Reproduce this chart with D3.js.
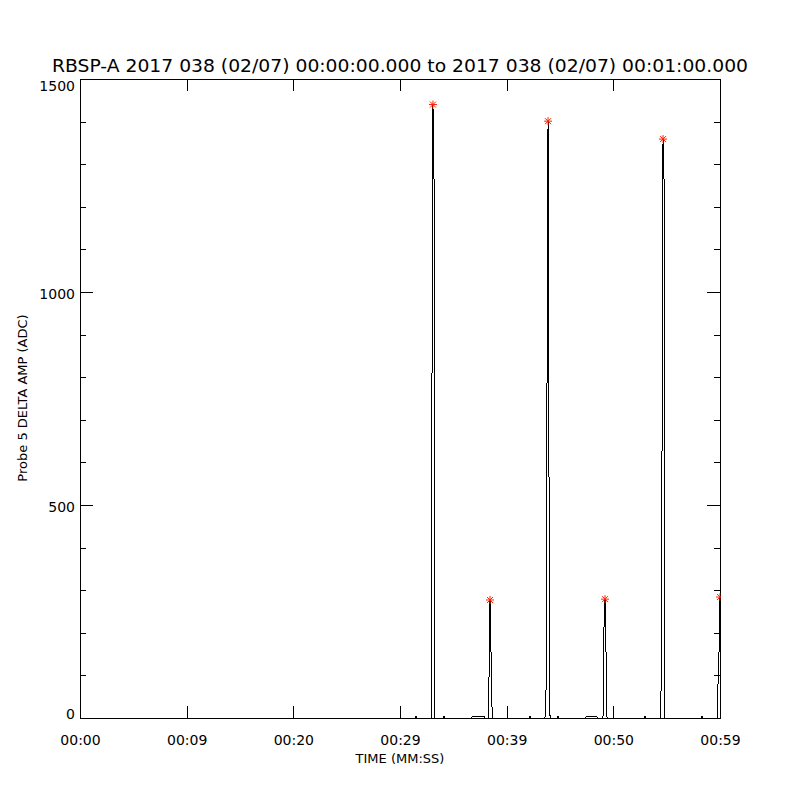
<!DOCTYPE html>
<html>
<head>
<meta charset="utf-8">
<script src="https://cdn.jsdelivr.net/npm/d3@7"></script>
<style>
body { margin: 0; background: #fff; }
text { font-family: "DejaVu Sans", "Liberation Sans", sans-serif; fill: #000; }
</style>
</head>
<body>
<script>
// seconds since 00:00:00 and probe amplitude (ADC)
var times = [0, 31.41, 31.50, 31.59, 32.91, 33.00, 33.09, 33.19, 33.28, 34.03, 34.13, 34.22,
             36.66, 36.75, 37.31, 37.88, 37.97, 38.25, 38.34, 38.44, 38.53, 38.63, 38.72,
             42.09, 42.19, 42.28, 43.59, 43.69, 43.78, 43.88, 43.97, 44.06, 44.16,
             44.72, 44.81, 44.91, 47.34, 47.44, 48.00, 48.47, 48.56,
             49.03, 49.13, 49.22, 49.31, 49.41, 52.88, 52.97, 53.06,
             54.38, 54.47, 54.56, 54.66, 54.75, 54.84, 58.22, 58.31, 58.41,
             59.72, 59.81, 59.91, 60.0];
var values = [0, 0, 5, 0, 0, 800, 1440, 1265, 0, 0, 4, 0,
              0, 3, 4, 3, 0, 0, 87, 277, 158, 21, 0,
              0, 4, 0, 0, 66, 770, 1401, 566, 6, 0,
              0, 5, 0, 0, 3, 4, 3, 0,
              0, 220, 279, 162, 0, 0, 4, 0,
              0, 56, 595, 1359, 1265, 0, 0, 4, 0,
              0, 77, 157, 284];

var peakTimes = [33.09, 38.44, 43.88, 49.22, 54.66, 60.0];
var peakValues = [1440, 277, 1401, 279, 1359, 284];

var xTicks = [0, 10, 20, 30, 40, 50, 60];
var xTickLabels = ["00:00", "00:09", "00:20", "00:29", "00:39", "00:50", "00:59"];
var yMajor = [0, 500, 1000, 1500];
var yMinor = [100, 200, 300, 400, 600, 700, 800, 900, 1100, 1200, 1300, 1400];

var title = "RBSP-A 2017 038 (02/07) 00:00:00.000 to 2017 038 (02/07) 00:01:00.000";

var plotLeft = 80, plotRight = 720, plotTop = 79, plotBottom = 718;

var svg = d3.select("body").append("svg")
            .attr("width", 800)
            .attr("height", 800);

var x = d3.scaleLinear().domain([0, 60]).range([plotLeft, plotRight]);
var y = d3.scaleLinear().domain([0, 1500]).range([plotBottom, plotTop]);

svg.append("defs").append("clipPath")
   .attr("id", "plot")
   .append("rect")
   .attr("x", plotLeft).attr("y", plotTop - 10)
   .attr("width", plotRight - plotLeft + 0.5).attr("height", plotBottom - plotTop + 10);

// axes on all four sides
var bottomAxis = d3.axisBottom(x).tickValues(xTicks)
                   .tickFormat(function(d, i) { return xTickLabels[i]; })
                   .tickSizeInner(-12).tickSizeOuter(0).tickPadding(17);
var topAxis = d3.axisTop(x).tickValues(xTicks).tickFormat("")
                .tickSizeInner(-12).tickSizeOuter(0);
var leftMajor = d3.axisLeft(y).tickValues(yMajor).tickFormat(d3.format("d"))
                  .tickSizeInner(-13).tickSizeOuter(0).tickPadding(18);
var leftMinor = d3.axisLeft(y).tickValues(yMinor).tickFormat("")
                  .tickSizeInner(-6).tickSizeOuter(0);
var rightMajor = d3.axisRight(y).tickValues(yMajor).tickFormat("")
                   .tickSizeInner(-13).tickSizeOuter(0);
var rightMinor = d3.axisRight(y).tickValues(yMinor).tickFormat("")
                   .tickSizeInner(-6).tickSizeOuter(0);

function styleAxis(g) {
  g.attr("font-family", null).attr("font-size", null);
  g.selectAll("path, line").attr("stroke", "#000").attr("shape-rendering", "crispEdges");
  g.selectAll("text").attr("font-size", "14px").attr("fill", "#000");
}

svg.append("g").attr("transform", "translate(0," + plotBottom + ")").call(bottomAxis).call(styleAxis);
svg.append("g").attr("transform", "translate(0," + plotTop + ")").call(topAxis).call(styleAxis);
var gl = svg.append("g").attr("transform", "translate(" + plotLeft + ",0)").call(leftMajor).call(styleAxis);
svg.append("g").attr("transform", "translate(" + plotLeft + ",0)").call(leftMinor).call(styleAxis);
svg.append("g").attr("transform", "translate(" + plotRight + ",0)").call(rightMajor).call(styleAxis);
svg.append("g").attr("transform", "translate(" + plotRight + ",0)").call(rightMinor).call(styleAxis);

// keep end labels inside the frame, like the original
gl.selectAll("text")
  .attr("x", -5)
  .attr("dy", function(d) {
    if (d === 1500) return "0.85em";
    if (d === 0) return "0.05em";
    return "0.45em";
  });

// data line
var line = d3.line()
             .x(function(d, i) { return x(times[i]); })
             .y(function(d) { return y(d); });

svg.append("path")
   .datum(values)
   .attr("clip-path", "url(#plot)")
   .attr("fill", "none")
   .attr("stroke", "#000")
   .attr("stroke-width", 1)
   .attr("shape-rendering", "crispEdges")
   .attr("d", line);

// IDL-style asterisk (psym=2)
var asterisk = {
  draw: function(context, size) {
    var r = Math.sqrt(size) / 2, d = r * 0.75;
    context.moveTo(-r, 0); context.lineTo(r, 0);
    context.moveTo(0, -r); context.lineTo(0, r);
    context.moveTo(-d, -d); context.lineTo(d, d);
    context.moveTo(-d, d); context.lineTo(d, -d);
  }
};

svg.append("g")
   .attr("clip-path", "url(#plot)")
   .selectAll("path")
   .data(peakValues)
   .enter()
   .append("path")
   .attr("transform", function(d, i) {
     return "translate(" + x(peakTimes[i]) + "," + y(d) + ")";
   })
   .attr("d", d3.symbol().type(asterisk).size(64))
   .attr("fill", "none")
   .attr("stroke", "#ff2000")
   .attr("stroke-width", 1);

// titles
svg.append("text")
   .attr("x", 400).attr("y", 72)
   .attr("text-anchor", "middle")
   .attr("font-size", "17px")
   .attr("textLength", 696)
   .attr("lengthAdjust", "spacingAndGlyphs")
   .text(title);

svg.append("text")
   .attr("x", 400).attr("y", 763)
   .attr("text-anchor", "middle")
   .attr("font-size", "13px")
   .text("TIME (MM:SS)");

svg.append("text")
   .attr("transform", "translate(27,398) rotate(-90)")
   .attr("text-anchor", "middle")
   .attr("font-size", "13px")
   .text("Probe 5 DELTA AMP (ADC)");
</script>
</body>
</html>
